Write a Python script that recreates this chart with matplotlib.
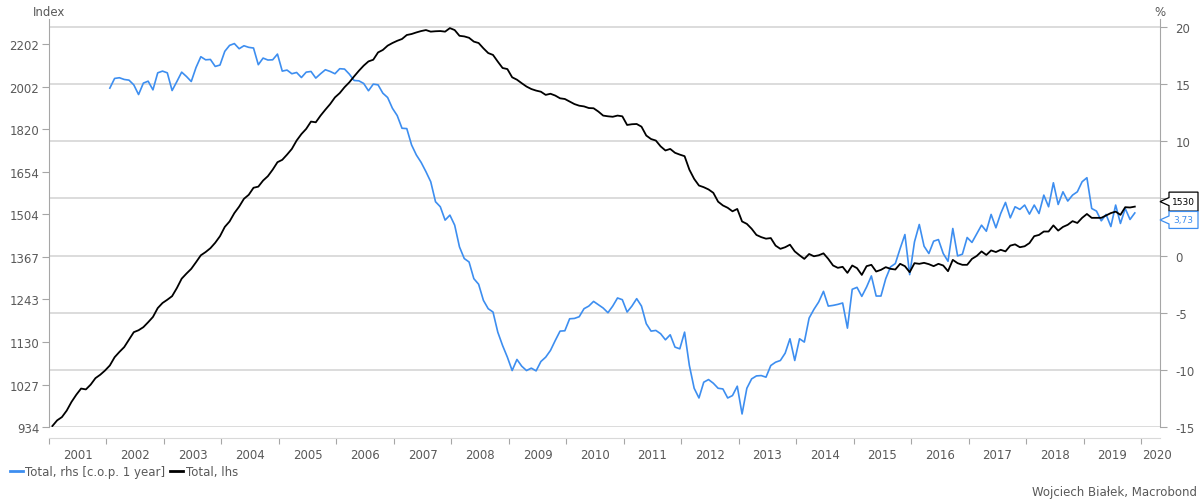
import numpy as np
import matplotlib.pyplot as plt
import matplotlib.transforms as mtransforms
from matplotlib.patches import Polygon
from matplotlib.lines import Line2D
from matplotlib.ticker import NullLocator, FixedLocator, NullFormatter, FixedFormatter

plt.rcParams['font.family'] = ['DejaVu Sans']

# Total, lhs (index), monthly Jan 2001 - Nov 2019
index_total = [
    936, 948, 955, 969, 988, 1004, 1018, 1016, 1027, 1042, 1050, 1060,
    1072, 1092, 1105, 1117, 1136, 1155, 1160, 1168, 1181, 1195, 1219, 1233,
    1242, 1252, 1275, 1302, 1317, 1331, 1351, 1372, 1382, 1394, 1411, 1432,
    1462, 1480, 1508, 1530, 1557, 1571, 1596, 1600, 1622, 1638, 1662, 1690,
    1699, 1719, 1741, 1774, 1800, 1821, 1851, 1848, 1876, 1901, 1925, 1954,
    1973, 1999, 2021, 2048, 2074, 2098, 2118, 2126, 2161, 2173, 2194, 2207,
    2218, 2227, 2247, 2252, 2260, 2267, 2272, 2264, 2266, 2267, 2264, 2282,
    2272, 2243, 2240, 2233, 2214, 2207, 2181, 2158, 2149, 2117, 2087, 2082,
    2044, 2033, 2017, 2002, 1991, 1984, 1979, 1965, 1970, 1962, 1950, 1947,
    1936, 1925, 1918, 1915, 1908, 1907, 1893, 1876, 1873, 1871, 1876, 1873,
    1837, 1840, 1841, 1830, 1794, 1780, 1774, 1751, 1735, 1741, 1726, 1719,
    1713, 1662, 1628, 1604, 1598, 1590, 1578, 1547, 1534, 1526, 1514, 1522,
    1480, 1472, 1456, 1436, 1429, 1424, 1426, 1402, 1392, 1397, 1405, 1384,
    1372, 1361, 1376, 1369, 1372, 1378, 1361, 1341, 1334, 1337, 1319, 1341,
    1333, 1313, 1339, 1343, 1323, 1328, 1336, 1331, 1329, 1346, 1339, 1321,
    1348, 1346, 1349, 1345, 1339, 1346, 1341, 1324, 1358, 1348, 1343, 1343,
    1361, 1370, 1384, 1373, 1387, 1382, 1389, 1384, 1402, 1406, 1397, 1400,
    1410, 1432, 1436, 1447, 1447, 1467, 1450, 1462, 1469, 1481, 1475, 1492,
    1505, 1492, 1492, 1492, 1500, 1508, 1513, 1502, 1528, 1527, 1530,
]

# Total, rhs [c.o.p. 1 year] (%), monthly Jan 2002 - Nov 2019
yoy_total = [
    14.65, 15.5, 15.56, 15.41, 15.35, 14.94, 14.09, 15.09, 15.26, 14.5, 15.99, 16.14,
    15.99, 14.44, 15.23, 16.05, 15.67, 15.23, 16.46, 17.4, 17.13, 17.16, 16.55, 16.67,
    17.87, 18.39, 18.55, 18.1, 18.36, 18.22, 18.16, 16.7, 17.28, 17.11, 17.13, 17.63,
    16.14, 16.23, 15.91, 16.02, 15.58, 16.05, 16.11, 15.53, 15.91, 16.26, 16.11, 15.91,
    16.35, 16.32, 15.88, 15.32, 15.29, 15.06, 14.42, 15.0, 14.94, 14.21, 13.83, 12.89,
    12.25, 11.14, 11.11, 9.68, 8.8, 8.15, 7.34, 6.46, 4.71, 4.27, 3.1, 3.54,
    2.66, 0.76, -0.26, -0.56, -2.02, -2.51, -3.92, -4.65, -4.94, -6.7, -7.87, -8.89,
    -10.06, -9.09, -9.68, -10.06, -9.85, -10.09, -9.27, -8.89, -8.3, -7.43, -6.61, -6.58,
    -5.53, -5.5, -5.35, -4.65, -4.42, -4.01, -4.3, -4.59, -5.0, -4.42, -3.71, -3.86,
    -4.94, -4.42, -3.77, -4.42, -5.96, -6.61, -6.55, -6.84, -7.37, -6.93, -8.01, -8.16,
    -6.7, -9.62, -11.61, -12.46, -11.08, -10.85, -11.17, -11.61, -11.67, -12.46, -12.25, -11.43,
    -13.86, -11.61, -10.79, -10.53, -10.5, -10.64, -9.62, -9.33, -9.18, -8.54, -7.28, -9.18,
    -7.28, -7.57, -5.47, -4.71, -4.06, -3.13, -4.42, -4.36, -4.27, -4.15, -6.35, -2.95,
    -2.78, -3.57, -2.75, -1.78, -3.54, -3.54, -2.02, -0.99, -0.7, 0.61, 1.84, -1.67,
    1.2, 2.72, 0.82, 0.18, 1.26, 1.4, 0.18, -0.5, 2.37, -0.03, 0.12, 1.58,
    1.15, 1.9, 2.66, 2.13, 3.6, 2.43, 3.68, 4.65, 3.3, 4.27, 4.04, 4.42,
    3.63, 4.42, 3.68, 5.29, 4.27, 6.37, 4.47, 5.58, 4.77, 5.29, 5.58, 6.46,
    6.81, 4.12, 3.89, 3.04, 3.6, 2.54, 4.42, 2.81, 4.12, 3.16, 3.73,
]

left_ticks = [934, 1027, 1130, 1243, 1367, 1504, 1654, 1820, 2002, 2202]
right_ticks = [-15, -10, -5, 0, 5, 10, 15, 20]
# the "5" label sits under the last-value callouts in the original
right_labels = ['-15', '-10', '-5', '0', '', '10', '15', '20']
years = list(range(2001, 2021))

BLUE = '#3d8ef0'
GRAY_TXT = '#595959'
GRAY_AX = '#a6a6a6'
GRID = '#d9d9d9'


def month_axis(first_year, n):
    # monthly points, plotted a bit past the month start
    m = np.arange(n)
    return first_year + (m + 0.7) / 12.0


x_idx = month_axis(2001, len(index_total))
x_yoy = month_axis(2002, len(yoy_total))

fig = plt.figure(figsize=(12.03, 5.02), dpi=100)
ax = fig.add_axes([49 / 1203, 74 / 502, 1111 / 1203, 408 / 502])
ax2 = ax.twinx()

# right axis: % change
ax.plot(x_yoy, yoy_total, color=BLUE, lw=1.2, solid_joinstyle='round')
ax.set_ylim(-15, 20.7)
ax.yaxis.tick_right()
ax.set_yticks(right_ticks)
ax.set_yticklabels(right_labels)
ax.grid(axis='y', color=GRID, lw=1.3)
ax.set_axisbelow(True)
ax.tick_params(axis='y', length=5, color=GRAY_AX, labelcolor=GRAY_TXT, labelsize=8.5, pad=6)

# left axis: index, log scale
ax2.plot(x_idx, index_total, color='black', lw=1.3, solid_joinstyle='round')
ax2.set_yscale('log')
ax2.set_ylim(934, 2329)
ax2.yaxis.tick_left()
ax2.yaxis.set_major_locator(FixedLocator(left_ticks))
ax2.yaxis.set_major_formatter(FixedFormatter([str(v) for v in left_ticks]))
ax2.yaxis.set_minor_locator(NullLocator())
ax2.yaxis.set_minor_formatter(NullFormatter())
ax2.tick_params(axis='y', length=5, color=GRAY_AX, labelcolor=GRAY_TXT, labelsize=8.5, pad=2)

# x axis: year ticks, labels between them
ax.set_xlim(2001, 2020.33)
ax.xaxis.set_major_locator(FixedLocator(years))
ax.xaxis.set_major_formatter(NullFormatter())
label_pos = [y + 0.5 for y in years[:-1]] + [2020.28]
ax.xaxis.set_minor_locator(FixedLocator(label_pos))
ax.xaxis.set_minor_formatter(FixedFormatter([str(y) for y in years]))
ax.tick_params(axis='x', which='major', length=4, color=GRAY_AX, direction='out')
ax.tick_params(axis='x', which='minor', length=0, labelcolor=GRAY_TXT, labelsize=8.5, pad=7)

ax.spines['top'].set_visible(False)
for s in ax2.spines.values():
    s.set_visible(False)
ax.spines['left'].set_color(GRAY_AX)
ax.spines['right'].set_color(GRAY_AX)
ax.spines['bottom'].set_color(GRID)
ax.spines['bottom'].set_position(('outward', 8))

fig.text(49 / 1203, 1 - 12 / 502, 'Index', ha='center', va='center', color=GRAY_TXT, fontsize=8.5)
fig.text(1160 / 1203, 1 - 12 / 502, '%', ha='center', va='center', color=GRAY_TXT, fontsize=8.5)


# last value callouts on the right axis
def callout(value, axis, label, color, dy, h):
    anchor = mtransforms.ScaledTranslation(
        1.0, value, mtransforms.blended_transform_factory(axis.transAxes, axis.transData))
    tr = mtransforms.Affine2D().translate(0, dy) + anchor
    pts = [(0, 0), (9, 4), (9, h / 2), (38, h / 2), (38, -h / 2), (9, -h / 2), (9, -4)]
    fig.add_artist(Polygon(pts, closed=True, fc='white', ec=color, lw=0.9, transform=tr))
    fig.text(0, 0, label, transform=mtransforms.Affine2D().translate(23.5, 0) + tr,
             ha='center', va='center', fontsize=6.5, color=color)


callout(index_total[-1], ax2, str(index_total[-1]), 'black', 5, 19)
callout(yoy_total[-1], ax, f'{yoy_total[-1]:.2f}'.replace('.', ','), BLUE, -7, 17)

handles = [Line2D([], [], color=BLUE, lw=2), Line2D([], [], color='black', lw=2)]
fig.legend(handles, ['Total, rhs [c.o.p. 1 year]', 'Total, lhs'],
           loc='center left', bbox_to_anchor=(10 / 1203, 29 / 502), ncol=2, frameon=False,
           fontsize=8.5, labelcolor=GRAY_TXT, handlelength=1.1, handletextpad=0.2,
           columnspacing=0.4, borderpad=0, borderaxespad=0)

fig.text(1197 / 1203, 9 / 502, 'Wojciech Białek, Macrobond', ha='right', va='center',
         color=GRAY_TXT, fontsize=8.5)

fig.savefig('out.png', dpi=100)
